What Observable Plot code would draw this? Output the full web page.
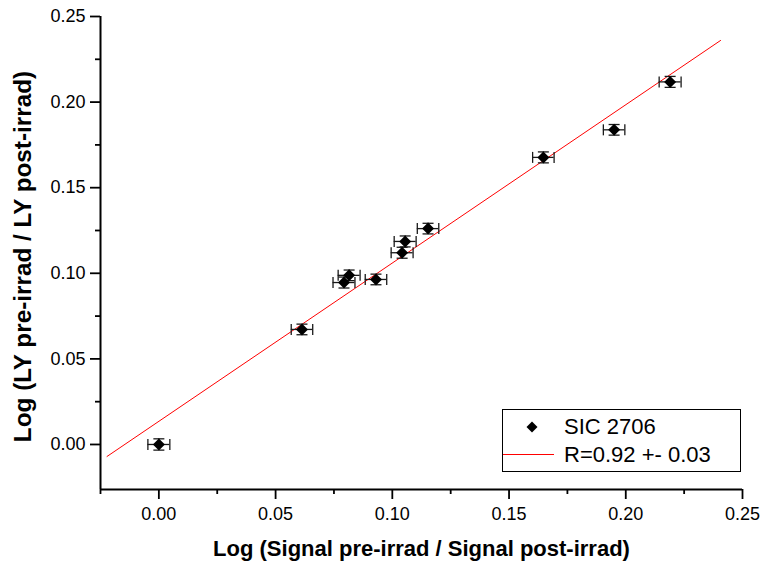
<!DOCTYPE html>
<html>
<head>
<meta charset="utf-8">
<script src="https://cdn.jsdelivr.net/npm/d3@7"></script>
<script src="https://cdn.jsdelivr.net/npm/@observablehq/plot@0.6"></script>
<style>
  html, body { margin: 0; padding: 0; background: #fff; }
  #wrap { position: relative; width: 765px; height: 566px; font-family: "Liberation Sans", Arial, sans-serif; }
  #legend { position: absolute; left: 502px; top: 409px; width: 239px; height: 63px; border: 1px solid #000; background: #fff; box-sizing: border-box; font-size: 22px; color: #000; }
  #legend .row { position: absolute; left: 0; height: 30px; display: flex; align-items: center; }
  #legend svg { display: block; }
</style>
</head>
<body>
<div id="wrap"></div>
<script>
// ---- data ----
const seriesName = "SIC 2706";
const fitLabel = "R=0.92 +- 0.03";
const xTitle = "Log (Signal pre-irrad / Signal post-irrad)";
const yTitle = "Log (LY pre-irrad / LY post-irrad)";
const xVals = [0.000, 0.0613, 0.0793, 0.0815, 0.0930, 0.1042, 0.1055, 0.1153, 0.1647, 0.1950, 0.2190];
const yVals = [0.000, 0.0672, 0.0946, 0.0988, 0.0964, 0.1120, 0.1186, 0.1261, 0.1677, 0.1838, 0.2118];
const xErr  = [0.0047, 0.0046, 0.0047, 0.0047, 0.0046, 0.0047, 0.0047, 0.0046, 0.0046, 0.0046, 0.0047];
const yErr  = [0.0033, 0.0031, 0.0032, 0.0031, 0.0031, 0.0032, 0.0032, 0.0031, 0.0032, 0.0031, 0.0032];
const fitX = [-0.0222, 0.2406];
const fitY = [-0.0070, 0.2360];
const xDomain = [-0.025, 0.25];
const yDomain = [-0.0263, 0.25];
const xMajor = [0, 0.05, 0.10, 0.15, 0.20, 0.25];
const xMinor = [-0.025, 0.025, 0.075, 0.125, 0.175, 0.225];
const yMajor = [0, 0.05, 0.10, 0.15, 0.20, 0.25];
const yMinor = [0.025, 0.075, 0.125, 0.175, 0.225];

const points = xVals.map((x, i) => ({x, y: yVals[i], xe: xErr[i], ye: yErr[i]}));
const fit = fitX.map((x, i) => ({x, y: fitY[i]}));

// custom symbols
const diamond = {draw(ctx, size) { const r = Math.sqrt(size / Math.PI); ctx.moveTo(0, -r); ctx.lineTo(r, 0); ctx.lineTo(0, r); ctx.lineTo(-r, 0); ctx.closePath(); }};
const vcap = {draw(ctx, size) { const r = Math.sqrt(size / Math.PI); ctx.moveTo(0, -r); ctx.lineTo(0, r); }};
const hcap = {draw(ctx, size) { const r = Math.sqrt(size / Math.PI); ctx.moveTo(-r, 0); ctx.lineTo(r, 0); }};

const fmt = d3.format(".2f");
const barColor = "#1a1a1a";

const chart = Plot.plot({
  width: 765,
  height: 566,
  marginLeft: 100,
  marginRight: 23,
  marginTop: 16,
  marginBottom: 77,
  style: {fontFamily: "'Liberation Sans', Arial, sans-serif", fontSize: "18px", color: "#000", background: "#fff", overflow: "visible"},
  x: {domain: xDomain},
  y: {domain: yDomain},
  marks: [
    Plot.axisX({ticks: xMinor, tickSize: 5, tickFormat: () => "", strokeWidth: 1.8, label: null}),
    Plot.axisY({ticks: yMinor, tickSize: 5, tickFormat: () => "", strokeWidth: 1.8, label: null}),
    Plot.axisX({ticks: xMajor, tickSize: 10, tickPadding: 8, tickFormat: fmt, strokeWidth: 1.8, fontSize: 18, fill: "#000", label: null}),
    Plot.axisY({ticks: yMajor, tickSize: 10, tickPadding: 5, tickFormat: fmt, strokeWidth: 1.8, fontSize: 18, fill: "#000", label: null}),
    Plot.ruleX([xDomain[0]], {strokeWidth: 2, stroke: "#000"}),
    Plot.ruleY([yDomain[0]], {strokeWidth: 2, stroke: "#000"}),
    Plot.line(fit, {x: "x", y: "y", stroke: "#ff0000", strokeWidth: 1}),
    Plot.ruleY(points, {y: "y", x1: d => d.x - d.xe, x2: d => d.x + d.xe, stroke: barColor, strokeWidth: 1.3}),
    Plot.ruleX(points, {x: "x", y1: d => d.y - d.ye, y2: d => d.y + d.ye, stroke: barColor, strokeWidth: 1.3}),
    Plot.dot(points, {x: d => d.x - d.xe, y: "y", symbol: vcap, r: 5.5, stroke: barColor, strokeWidth: 1.3, fill: "none"}),
    Plot.dot(points, {x: d => d.x + d.xe, y: "y", symbol: vcap, r: 5.5, stroke: barColor, strokeWidth: 1.3, fill: "none"}),
    Plot.dot(points, {x: "x", y: d => d.y - d.ye, symbol: hcap, r: 5.5, stroke: barColor, strokeWidth: 1.3, fill: "none"}),
    Plot.dot(points, {x: "x", y: d => d.y + d.ye, symbol: hcap, r: 5.5, stroke: barColor, strokeWidth: 1.3, fill: "none"}),
    Plot.dot(points, {x: "x", y: "y", symbol: diamond, r: 6, fill: "#000", stroke: "none"}),
    Plot.text([xTitle], {frameAnchor: "bottom", textAnchor: "middle", dy: 59, fontSize: 22, fontWeight: "bold", fill: "#000", lineAnchor: "middle"}),
    Plot.text([yTitle], {frameAnchor: "left", textAnchor: "middle", dx: -77, dy: 3.5, rotate: -90, fontSize: 24.3, fontWeight: "bold", fill: "#000", lineAnchor: "middle"})
  ]
});

const wrap = document.getElementById("wrap");
wrap.appendChild(chart);

// legend
const legend = document.createElement("div");
legend.id = "legend";
legend.innerHTML = `
  <div class="row" style="top:2px;">
    <svg width="61" height="30"><path d="M29,9.5 L34.5,15 L29,20.5 L23.5,15 Z" fill="#000"/></svg>
    <span></span>
  </div>
  <div class="row" style="top:30px;">
    <svg width="61" height="30"><line x1="0" x2="51" y1="14.5" y2="14.5" stroke="#ff0000" stroke-width="1"/></svg>
    <span></span>
  </div>`;
const spans = legend.querySelectorAll("span");
spans[0].textContent = seriesName;
spans[1].textContent = fitLabel;
wrap.appendChild(legend);
</script>
</body>
</html>
